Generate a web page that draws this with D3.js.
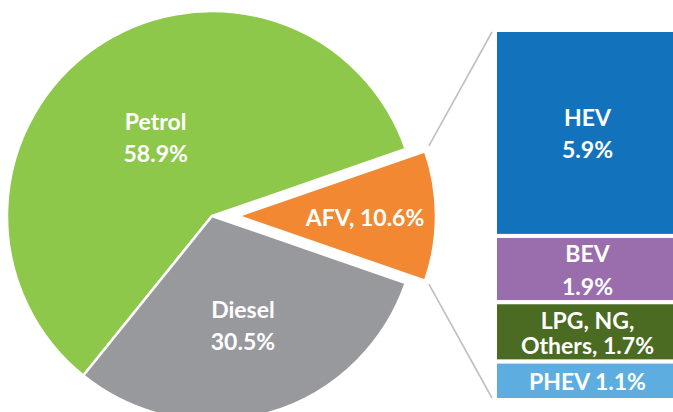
<!DOCTYPE html>
<html>
<head>
<meta charset="utf-8">
<script src="https://cdn.jsdelivr.net/npm/d3@7"></script>
<style>
html,body{margin:0;padding:0;background:#fff;}
svg{display:block;}
text{font-family:Lato,"Open Sans",sans-serif;font-weight:bold;fill:#fff;}
</style>
</head>
<body>
<div id="chart"></div>
<script>
// main pie
const fuelNames=["Petrol","Diesel","AFV"];
const fuelShares=[58.9,30.5,10.6];
const fuelColors=["#8dc84a","#98999d","#f28831"];

// breakdown of AFV
const afvNames=["HEV","BEV","LPG, NG, Others","PHEV"];
const afvShares=[5.9,1.9,1.7,1.1];
const afvColors=["#1273bc","#9a6dad","#4b6a22","#5dade0"];

const width=673,height=412;
const cx=212,cy=216,r=205;
const afvR=198,explode=26;

const svg=d3.select("#chart").append("svg")
    .attr("width",width)
    .attr("height",height);

const fmt=v=>v.toFixed(1)+"%";

function pieLines(name,v){
    if(name==="AFV") return [name+", "+fmt(v)];
    return [name,fmt(v)];
}
function barLines(name,v){
    if(name==="LPG, NG, Others") return ["LPG, NG,","Others, "+fmt(v)];
    if(name==="PHEV") return [name+" "+fmt(v)];
    return [name,fmt(v)];
}

const total=d3.sum(fuelShares);
const afvHalf=Math.PI*fuelShares[2]/total;
const a0=Math.PI/2-afvHalf;

// counter clockwise so AFV sits at 3 o'clock
const pie=d3.pie().sort(null).value(d=>d.value)
    .startAngle(a0).endAngle(a0-2*Math.PI);

const fuels=fuelNames.map((n,i)=>({name:n,value:fuelShares[i],color:fuelColors[i]}));
const arcs=pie(fuels);

const arc=d3.arc().innerRadius(0);

const g=svg.append("g").attr("transform",`translate(${cx},${cy})`);

function offset(d){
    if(d.data.name!=="AFV") return [0,0];
    const m=(d.startAngle+d.endAngle)/2;
    return [Math.sin(m)*explode,-Math.cos(m)*explode];
}

g.selectAll("path")
    .data(arcs)
    .join("path")
    .attr("transform",d=>`translate(${offset(d)})`)
    .attr("d",d=>arc.outerRadius(d.data.name==="AFV"?afvR:r)(d))
    .attr("fill",d=>d.data.color)
    .attr("stroke","#fff")
    .attr("stroke-width",2.5)
    .attr("stroke-linejoin","round");

// label positions along each slice's mid angle
const labelR={Petrol:98,Diesel:112,AFV:127};
const lineH=32;
g.selectAll("text.pl")
    .data(arcs)
    .join("text")
    .attr("class","pl")
    .attr("text-anchor","middle")
    .style("font-size","23px")
    .each(function(d){
        const m=(d.startAngle+d.endAngle)/2;
        const o=offset(d);
        const x=o[0]+Math.sin(m)*labelR[d.data.name];
        const y=o[1]-Math.cos(m)*labelR[d.data.name];
        const lines=pieLines(d.data.name,d.data.value);
        const t=d3.select(this);
        lines.forEach((s,i)=>{
            t.append("tspan")
                .attr("x",x)
                .attr("y",y+(i-(lines.length-1)/2)*lineH+10)
                .text(s);
        });
    });

// stacked bar for AFV
const barX=495,barW=185;
const y=d3.scaleLinear().domain([0,d3.sum(afvShares)]).range([400,30]);

let acc=0;
const segs=afvNames.map((n,i)=>{
    const s={name:n,value:afvShares[i],color:afvColors[i],y0:acc,y1:acc+afvShares[i]};
    acc+=afvShares[i];
    return s;
});
// stack from top: HEV at top
const topDown=segs.map(s=>({...s,y0:acc-s.y1,y1:acc-s.y0}));

const bar=svg.append("g");
bar.selectAll("rect")
    .data(topDown)
    .join("rect")
    .attr("x",barX)
    .attr("width",barW)
    .attr("y",d=>y(d.y1))
    .attr("height",d=>y(d.y0)-y(d.y1))
    .attr("fill",d=>d.color)
    .attr("stroke","#fff")
    .attr("stroke-width",4);

bar.selectAll("text")
    .data(topDown)
    .join("text")
    .attr("text-anchor","middle")
    .style("font-size","23px")
    .each(function(d){
        const lines=barLines(d.name,d.value);
        const ym=(y(d.y0)+y(d.y1))/2;
        const lh=lines.length>1&&d.value<2?(d.name==="BEV"?33:25):32;
        const t=d3.select(this);
        lines.forEach((s,i)=>{
            t.append("tspan")
                .attr("x",barX+barW/2)
                .attr("y",ym+(i-(lines.length-1)/2)*lh+9.5)
                .text(s);
        });
    });

// connector lines from AFV slice to the bar
const afv=arcs[2];
const ao=offset(afv);
const pTop=[ao[0]+Math.sin(afv.endAngle)*(afvR+4)+cx,ao[1]-Math.cos(afv.endAngle)*(afvR+4)+cy-4];
const pBot=[ao[0]+Math.sin(afv.startAngle)*(afvR+4)+cx,ao[1]-Math.cos(afv.startAngle)*(afvR+4)+cy+2];
const ends=[[pTop,[barX-3,y(acc)+2]],[pBot,[barX-3,y(0)-2]]];

svg.append("g")
    .attr("stroke","#bfbfbf")
    .attr("stroke-width",1.6)
    .selectAll("line")
    .data(ends)
    .join("line")
    .attr("x1",d=>d[0][0])
    .attr("y1",d=>d[0][1])
    .attr("x2",d=>d[1][0])
    .attr("y2",d=>d[1][1]);
</script>
</body>
</html>
